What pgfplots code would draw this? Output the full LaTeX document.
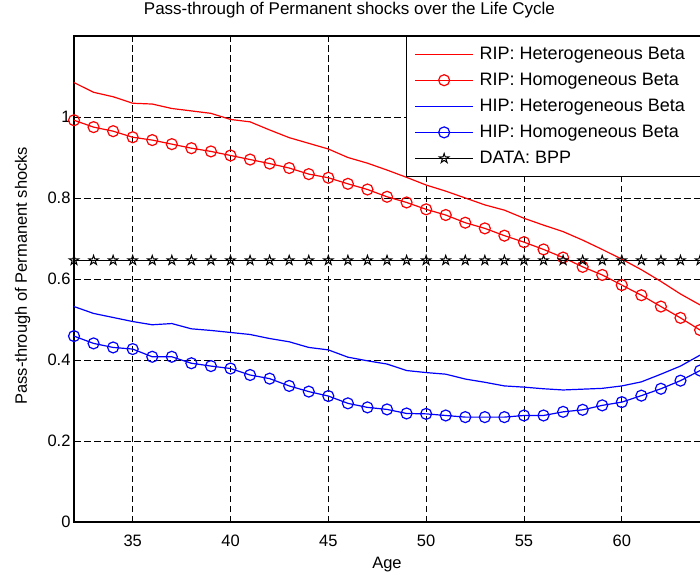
\documentclass[border=0pt]{standalone}
\usepackage{fontspec}
\setmainfont{Liberation Sans}
\usepackage{pgfplots}
\pgfplotsset{compat=1.18}
\pgfdeclareplotmark{pentagram}{%
 \pgfpathmoveto{\pgfpointpolar{90}{\pgfplotmarksize}}%
 \pgfpathlineto{\pgfpointpolar{126}{0.382\pgfplotmarksize}}%
 \pgfpathlineto{\pgfpointpolar{162}{\pgfplotmarksize}}%
 \pgfpathlineto{\pgfpointpolar{198}{0.382\pgfplotmarksize}}%
 \pgfpathlineto{\pgfpointpolar{234}{\pgfplotmarksize}}%
 \pgfpathlineto{\pgfpointpolar{270}{0.382\pgfplotmarksize}}%
 \pgfpathlineto{\pgfpointpolar{306}{\pgfplotmarksize}}%
 \pgfpathlineto{\pgfpointpolar{342}{0.382\pgfplotmarksize}}%
 \pgfpathlineto{\pgfpointpolar{18}{\pgfplotmarksize}}%
 \pgfpathlineto{\pgfpointpolar{54}{0.382\pgfplotmarksize}}%
 \pgfpathclose\pgfusepathqstroke}
\pgfplotstableread{
age riphet riphom hiphet hiphom bpp
32 1.085 0.992 0.532 0.459 0.646
33 1.061 0.975 0.515 0.441 0.646
34 1.050 0.965 0.505 0.431 0.646
35 1.034 0.950 0.495 0.427 0.646
36 1.032 0.943 0.487 0.408 0.646
37 1.021 0.933 0.490 0.408 0.646
38 1.015 0.923 0.477 0.392 0.646
39 1.009 0.915 0.473 0.385 0.646
40 0.994 0.905 0.468 0.379 0.646
41 0.988 0.895 0.463 0.363 0.646
42 0.968 0.885 0.453 0.354 0.646
43 0.949 0.874 0.445 0.336 0.646
44 0.935 0.859 0.431 0.322 0.646
45 0.921 0.850 0.425 0.311 0.646
46 0.900 0.835 0.407 0.293 0.646
47 0.886 0.821 0.398 0.283 0.646
48 0.869 0.803 0.390 0.278 0.646
49 0.851 0.789 0.374 0.268 0.646
50 0.832 0.772 0.369 0.267 0.646
51 0.817 0.758 0.365 0.263 0.646
52 0.800 0.739 0.353 0.259 0.646
53 0.783 0.725 0.345 0.259 0.646
54 0.770 0.707 0.336 0.259 0.646
55 0.750 0.691 0.333 0.263 0.646
56 0.733 0.673 0.329 0.263 0.646
57 0.717 0.653 0.326 0.272 0.646
58 0.696 0.630 0.328 0.277 0.646
59 0.673 0.610 0.330 0.288 0.646
60 0.649 0.585 0.336 0.296 0.646
61 0.623 0.560 0.346 0.312 0.646
62 0.594 0.532 0.365 0.329 0.646
63 0.563 0.504 0.385 0.349 0.646
64 0.536 0.474 0.412 0.374 0.646
}\data
\begin{document}
\begin{tikzpicture}
\path[use as bounding box] (-74pt,-57pt) rectangle (626pt,522pt);
\begin{axis}[
  at={(0pt,0pt)}, anchor=south west,
  scale only axis, width=645.6pt, height=486pt,
  xmin=32, xmax=65, ymin=0, ymax=1.2,
  xtick={35,40,45,50,55,60},
  ytick={0,0.2,0.4,0.6,0.8,1},
  /pgf/number format/assume math mode=true,
  tick label style={font=\fontsize{16.5}{19}\selectfont},
  xticklabel style={anchor=base, yshift=-24pt},
  tick align=inside, major tick length=6pt,
  tick style={black, line width=0.8pt},
  axis line style={line width=1.1pt},
  grid=major,
  major grid style={black, line width=0.8pt, dash pattern=on 6.5pt off 3.5pt},
  title={Pass-through of Permanent shocks over the Life Cycle},
  title style={font=\fontsize{17}{20}\selectfont, at={(axis description cs:0.4267,1)}, anchor=base, yshift=15.3pt},
  xlabel={Age},
  xlabel style={font=\fontsize{16.5}{19}\selectfont, at={(axis description cs:0.4848,0)}, anchor=base, yshift=-46pt},
  ylabel={Pass-through of Permanent shocks},
  ylabel style={font=\fontsize{16.5}{19}\selectfont, at={(axis description cs:0,0.507)}, anchor=base, yshift=47pt},
  legend image code/.code={\draw[mark repeat=2,mark phase=2,#1] plot coordinates {(0pt,0pt) (29pt,0pt) (58pt,0pt)};},
  legend style={at={(axis description cs:0.5143,1)}, anchor=north west,
    draw=black, line width=1pt, fill=white,
    font=\fontsize{18}{21}\selectfont,
    inner xsep=8pt, inner ysep=8.7pt, row sep=8.2pt, column sep=4pt,
    cells={anchor=west}},
]
\addplot[red, line width=1.2pt] table[x=age, y=riphet] {\data};
\addlegendentry{RIP: Heterogeneous Beta\hspace*{35pt}\mbox{}}
\addplot[red, line width=1.2pt, mark=o, mark size=5.5pt, mark options={solid}] table[x=age, y=riphom] {\data};
\addlegendentry{RIP: Homogeneous Beta}
\addplot[blue, line width=1.2pt] table[x=age, y=hiphet] {\data};
\addlegendentry{HIP: Heterogeneous Beta}
\addplot[blue, line width=1.2pt, mark=o, mark size=5.5pt, mark options={solid}] table[x=age, y=hiphom] {\data};
\addlegendentry{HIP: Homogeneous Beta}
\addplot[black, line width=1.1pt, mark=pentagram, mark size=5pt, mark options={solid, line width=1pt}] table[x=age, y=bpp] {\data};
\addlegendentry{DATA: BPP}
\end{axis}
\end{tikzpicture}
\end{document}
